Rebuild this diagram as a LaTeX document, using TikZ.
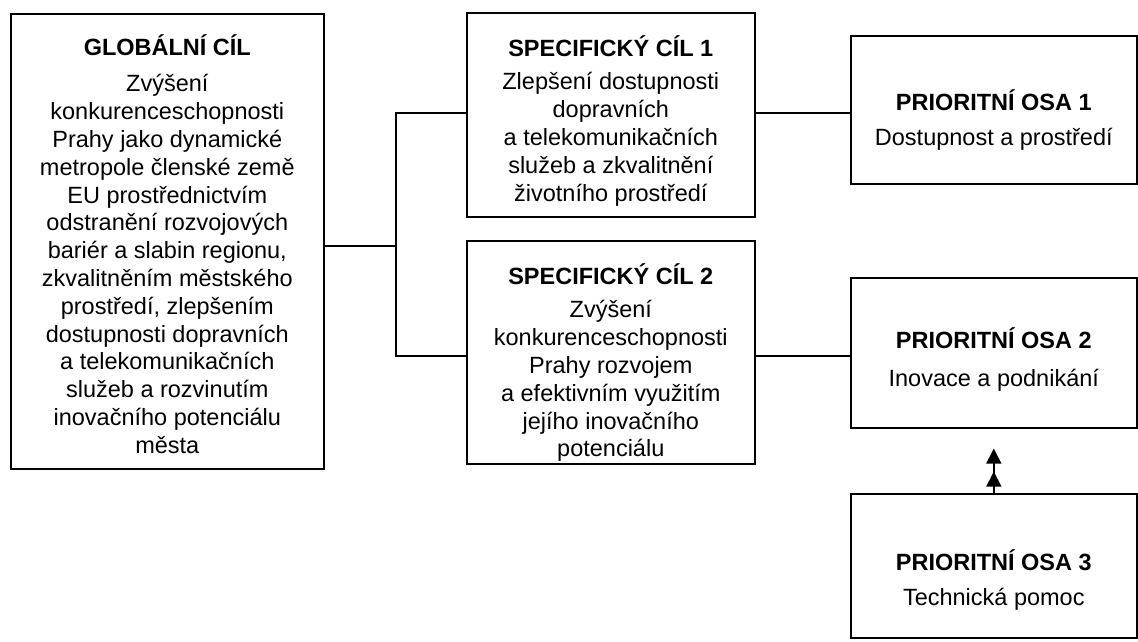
\documentclass[tikz,border=0pt]{standalone}
\usepackage{fontspec}
\setmainfont{Liberation Sans}
\usetikzlibrary{arrows.meta}
\newcommand{\mkbox}[6]{\parbox[c][#2][t]{#1}{\centering\rule{0pt}{#3}\textbf{#4}\\[#5]#6}}
\tikzset{
  box/.style={draw=black, line width=1.6pt, inner sep=0pt, anchor=north west,
    font=\fontsize{23.5}{27.8}\selectfont},
  link/.style={draw=black, line width=1.6pt},
  uparrow/.style={draw=black, line width=1.6pt,
    -{Triangle[length=15pt,width=15pt,sep=8pt]Triangle[length=15pt,width=15pt]}}
}
\begin{document}
\begin{tikzpicture}[x=1pt,y=-1pt]
\useasboundingbox (0,0) rectangle (1138,641);
\node[box] (gc) at (10,13) {\mkbox{313pt}{455pt}{42pt}{GLOBÁLNÍ CÍL}{8.2pt}{Zvýšení\\konkurenceschopnosti\\Prahy jako dynamické\\metropole členské země\\EU prostřednictvím\\odstranění rozvojových\\bariér a slabin regionu,\\zkvalitněním městského\\prostředí, zlepšením\\dostupnosti dopravních\\a telekomunikačních\\služeb a rozvinutím\\inovačního potenciálu\\města}};
\node[box] (sc1) at (466,12) {\mkbox{288pt}{204pt}{44pt}{SPECIFICKÝ CÍL 1}{5.2pt}{Zlepšení dostupnosti\\dopravních\\a telekomunikačních\\služeb a zkvalitnění\\životního prostředí}};
\node[box] (sc2) at (466,240) {\mkbox{288pt}{223pt}{44pt}{SPECIFICKÝ CÍL 2}{5.2pt}{Zvýšení\\konkurenceschopnosti\\Prahy rozvojem\\a efektivním využitím\\jejího inovačního\\potenciálu}};
\node[box] (po1) at (850,35) {\mkbox{286pt}{148pt}{75pt}{PRIORITNÍ OSA 1}{7.2pt}{Dostupnost a prostředí}};
\node[box] (po2) at (850,277) {\mkbox{286pt}{150pt}{71pt}{PRIORITNÍ OSA 2}{10.2pt}{Inovace a podnikání}};
\node[box] (po3) at (850,493) {\mkbox{286pt}{144pt}{77pt}{PRIORITNÍ OSA 3}{7.2pt}{Technická pomoc}};
\coordinate (jm) at (396,246);
\coordinate (ja) at (396,113);
\coordinate (jb) at (396,356);
\draw[link] (gc.east |- jm) -- (jm);
\draw[link] (sc1.west |- ja) -- (ja) -- (jb) -- (sc2.west |- jb);
\draw[link] (sc1.east |- ja) -- (po1.west |- ja);
\draw[link] (sc2.east |- jb) -- (po2.west |- jb);
\draw[uparrow, shorten >=20pt] (po3.north) -- (po2.south);
\end{tikzpicture}
\end{document}
